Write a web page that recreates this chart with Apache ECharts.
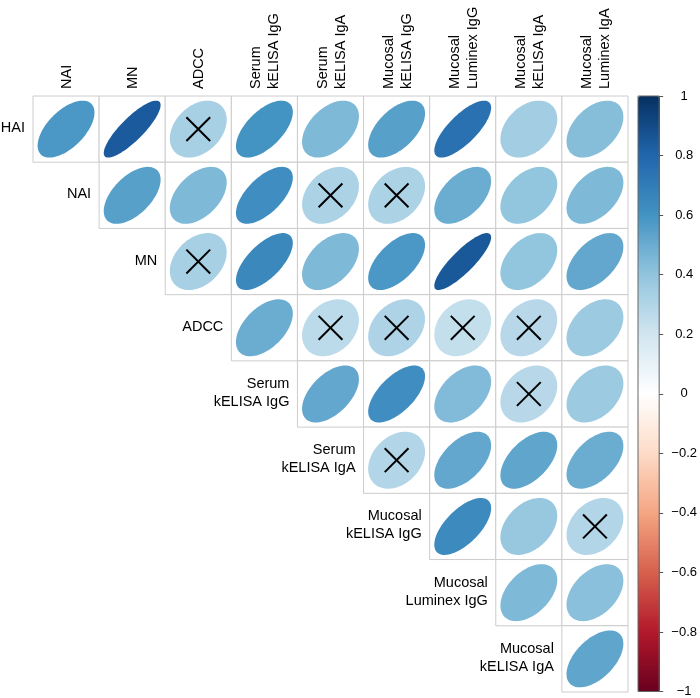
<!DOCTYPE html>
<html>
<head>
<meta charset="utf-8">
<script src="https://cdn.jsdelivr.net/npm/echarts@6/dist/echarts.min.js"></script>
<style>
  html, body { margin: 0; padding: 0; background: #fff; }
  #chart { width: 700px; height: 698px; }
</style>
</head>
<body>
<div id="chart"></div>
<script>
// column / row labels of the correlation matrix (upper triangle)
const colLabels = ['NAI', 'MN', 'ADCC', 'Serum\nkELISA IgG', 'Serum\nkELISA IgA',
  'Mucosal\nkELISA IgG', 'Mucosal\nLuminex IgG', 'Mucosal\nkELISA IgA', 'Mucosal\nLuminex IgA']
const rowLabels = ['HAI', 'NAI', 'MN', 'ADCC', 'Serum\nkELISA IgG', 'Serum\nkELISA IgA',
  'Mucosal\nkELISA IgG', 'Mucosal\nLuminex IgG', 'Mucosal\nkELISA IgA']

// correlations per row, starting at the diagonal column
const corrHAI = [0.58, 0.84, 0.33, 0.60, 0.45, 0.55, 0.75, 0.35, 0.43]
const corrNAI = [0.55, 0.45, 0.62, 0.32, 0.32, 0.50, 0.40, 0.45]
const corrMN = [0.33, 0.65, 0.45, 0.58, 0.85, 0.40, 0.52]
const corrADCC = [0.50, 0.27, 0.31, 0.24, 0.28, 0.37]
const corrSerumIgG = [0.52, 0.62, 0.44, 0.28, 0.37]
const corrSerumIgA = [0.30, 0.52, 0.53, 0.50]
const corrMucKIgG = [0.64, 0.38, 0.30]
const corrMucLIgG = [0.45, 0.42]
const corrMucKIgA = [0.53]

// [row, col] of non-significant pairs (crossed out)
const crossed = [[0, 2], [1, 4], [1, 5], [2, 2], [3, 4], [3, 5], [3, 6], [3, 7], [4, 7], [5, 5], [6, 8]]

const colorTicks = [-1, -0.8, -0.6, -0.4, -0.2, 0, 0.2, 0.4, 0.6, 0.8, 1]
const rdbu = ['#67001F', '#B2182B', '#D6604D', '#F4A582', '#FDDBC7', '#FFFFFF',
  '#D1E5F0', '#92C5DE', '#4393C3', '#2166AC', '#053061']

const rows = [corrHAI, corrNAI, corrMN, corrADCC, corrSerumIgG, corrSerumIgA, corrMucKIgG, corrMucLIgG, corrMucKIgA]
const cells = []
rows.forEach((vals, r) => {
  vals.forEach((v, i) => {
    const c = r + i
    const x = crossed.some(p => p[0] === r && p[1] === c) ? 1 : 0
    cells.push([c, r, v, x])
  })
})

const FONT = '"Liberation Sans", Arial, Helvetica, sans-serif'
const LABEL_FONT = '14.5px ' + FONT

const renderCell = (params, api) => {
  const c = api.coord([api.value(0), api.value(1)])
  const s = api.size([1, 1])
  const w = s[0], h = s[1]
  const rho = api.value(2)
  const a = Math.acos(rho)
  const pts = []
  for (let i = 0; i < 99; i++) {
    const k = (i / 98) * Math.PI * 2
    pts.push([c[0] + Math.cos(k + a / 2) / 2 * w * 0.86, c[1] - Math.cos(k - a / 2) / 2 * h * 0.86])
  }
  const children = [
    {type: 'rect', shape: {x: c[0] - w / 2, y: c[1] - h / 2, width: w, height: h},
      style: {fill: '#fff', stroke: '#CCCCCC', lineWidth: 1}},
    {type: 'polygon', shape: {points: pts}, style: {fill: api.visual('color')}},
  ]
  if (api.value(3)) {
    const d = w * 0.18
    children.push({type: 'line', shape: {x1: c[0] - d, y1: c[1] - d, x2: c[0] + d, y2: c[1] + d},
      style: {stroke: '#000', lineWidth: 2}})
    children.push({type: 'line', shape: {x1: c[0] - d, y1: c[1] + d, x2: c[0] + d, y2: c[1] - d},
      style: {stroke: '#000', lineWidth: 2}})
  }
  return {type: 'group', children}
}

const renderRowLabel = (params, api) => {
  const c = api.coord([api.value(0), api.value(1)])
  const s = api.size([1, 1])
  return {
    type: 'text',
    x: c[0] - s[0] / 2 - 8,
    y: c[1] - 1,
    style: {text: rowLabels[params.dataIndex], align: 'right', verticalAlign: 'middle',
      font: LABEL_FONT, fill: '#000', lineHeight: 18},
  }
}

const renderColLabel = (params, api) => {
  const c = api.coord([api.value(0), api.value(1)])
  const s = api.size([1, 1])
  return {
    type: 'text',
    x: c[0] + 1,
    y: c[1] - s[1] / 2 - 7,
    rotation: Math.PI / 2,
    style: {text: colLabels[params.dataIndex], align: 'left', verticalAlign: 'middle',
      font: LABEL_FONT, fill: '#000', lineHeight: 18},
  }
}

const chart = echarts.init(document.getElementById('chart'))
chart.setOption({
  animation: false,
  grid: [
    {left: 33, right: 72, top: 96, bottom: 6},
    {left: 638, width: 22, top: 96, bottom: 6, show: true, z: 10,
      borderColor: '#666', borderWidth: 1, backgroundColor: 'transparent'},
  ],
  xAxis: [
    {type: 'category', data: colLabels, gridIndex: 0, show: false},
    {type: 'value', gridIndex: 1, show: false, min: 0, max: 1},
  ],
  yAxis: [
    {type: 'category', data: rowLabels, inverse: true, gridIndex: 0, show: false},
    {type: 'value', gridIndex: 1, position: 'right', min: -1, max: 1, interval: 0.2, z: 10,
      axisLine: {show: false, onZero: false},
      axisTick: {show: true, length: 4, lineStyle: {color: '#555'}},
      splitLine: {show: false},
      axisLabel: {margin: 25, align: 'center', fontSize: 13, color: '#000', fontFamily: FONT,
        customValues: colorTicks,
        formatter: v => {
          const r = Math.round(v * 10) / 10
          return (r < 0 ? '\u2212' : '') + String(Math.abs(r))
        }}},
  ],
  visualMap: {
    type: 'continuous',
    min: -1, max: 1,
    dimension: 2,
    seriesIndex: 0,
    orient: 'vertical',
    left: 638, top: 96,
    padding: 0,
    z: 1,
    itemWidth: 22, itemHeight: 596,
    calculable: false,
    hoverLink: false,
    text: ['', ''],
    showLabel: false,
    inRange: {color: rdbu},
  },
  series: [
    {type: 'custom', xAxisIndex: 0, yAxisIndex: 0, data: cells, renderItem: renderCell, clip: false},
    {type: 'custom', xAxisIndex: 0, yAxisIndex: 0, data: rowLabels.map((_, i) => [i, i]),
      renderItem: renderRowLabel, clip: false},
    {type: 'custom', xAxisIndex: 0, yAxisIndex: 0, data: colLabels.map((_, i) => [i, 0]),
      renderItem: renderColLabel, clip: false},
  ],
})
</script>
</body>
</html>
